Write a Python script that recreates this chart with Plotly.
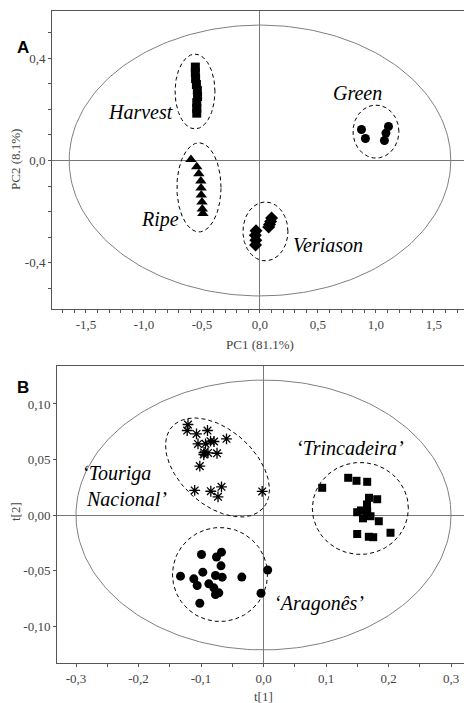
import numpy as np
import plotly.graph_objects as go

# ---------------- Panel A data (PC1 / PC2) ----------------
harvest_x = [-0.557, -0.557, -0.555, -0.548, -0.540, -0.538, -0.545, -0.545, -0.545]
harvest_y = [0.365, 0.343, 0.320, 0.297, 0.274, 0.250, 0.226, 0.203, 0.185]
ripe_x = [-0.595, -0.545, -0.527, -0.510, -0.508, -0.506, -0.500, -0.497, -0.492]
ripe_y = [0.004, -0.024, -0.052, -0.080, -0.107, -0.135, -0.162, -0.189, -0.207]
veriason_x = [0.100, 0.092, 0.082, 0.075, -0.034, -0.040, -0.036, -0.038]
veriason_y = [-0.225, -0.238, -0.250, -0.260, -0.274, -0.292, -0.311, -0.330]
green_x = [0.875, 0.909, 1.108, 1.086, 1.073]
green_y = [0.121, 0.086, 0.133, 0.107, 0.078]

# group ellipses A: (cx, cy, ax, by)
ell_harvest = (-0.560, 0.2695, 0.172, 0.146)
ell_ripe = (-0.526, -0.105, 0.190, 0.174)
ell_veriason = (0.047, -0.277, 0.194, 0.115)
ell_green = (1.000, 0.113, 0.198, 0.1035)
hotelling_A = (1.645, 0.529)

a_xticks = [-1.5, -1.0, -0.5, 0.0, 0.5, 1.0, 1.5]
a_xtext = ["-1,5", "-1,0", "-0,5", "0,0", "0,5", "1,0", "1,5"]
a_yticks = [-0.4, 0.0, 0.4]
a_ytext = ["-0,4", "0,0", "0,4"]

# ---------------- Panel B data (t[1] / t[2]) ----------------
touriga_x = [-0.1208, -0.1221, -0.1072, -0.0896, -0.0592, -0.1048, -0.0928, -0.0792,
             -0.0848, -0.0952, -0.0888, -0.0744, -0.0955, -0.1019, -0.1101, -0.0843,
             -0.0672, -0.0728, -0.0021]
touriga_y = [0.0815, 0.0761, 0.0730, 0.0761, 0.0686, 0.0640, 0.0641, 0.0662,
             0.0665, 0.0563, 0.0559, 0.0556, 0.0545, 0.0440, 0.0221, 0.0214,
             0.0254, 0.0164, 0.0212]
trinc_x = [0.0939, 0.1355, 0.1488, 0.1659, 0.1688, 0.1819, 0.1656, 0.1560, 0.1499,
           0.1659, 0.1592, 0.1712, 0.1845, 0.1499, 0.1685, 0.1755, 0.2032]
trinc_y = [0.0245, 0.0335, 0.0308, 0.0299, 0.0155, 0.0142, 0.0095, 0.0041, 0.0025,
           0.0034, -0.0030, -0.0011, -0.0056, -0.0171, -0.0196, -0.0200, -0.0160]
arag_x = [-0.0992, -0.0672, -0.0752, -0.0680, -0.1328, -0.0971, -0.0768, -0.0661,
          -0.0347, -0.1115, -0.1061, -0.0875, -0.0795, -0.0768, -0.0715, -0.1019,
          0.0067, -0.0040]
arag_y = [-0.0356, -0.0335, -0.0378, -0.0458, -0.0551, -0.0515, -0.0545, -0.0560,
          -0.0559, -0.0575, -0.0635, -0.0620, -0.0656, -0.0716, -0.0701, -0.0795,
          -0.0495, -0.0705]

# group ellipses B: center + two conjugate half-axis vectors (data units)
ell_touriga = ((-0.0736, 0.0428), (0.0728, -0.0367), (-0.0402, -0.0253))
ell_arag = (-0.0696, -0.0536, 0.076, 0.0423)
ell_trinc = (0.155, 0.0059, 0.0768, 0.0414)
hotelling_B = (0.300, 0.1215)

b_xticks = [-0.3, -0.2, -0.1, 0.0, 0.1, 0.2, 0.3]
b_xtext = ["-0,3", "-0,2", "-0,1", "0,0", "0,1", "0,2", "0,3"]
b_yticks = [-0.10, -0.05, 0.0, 0.05, 0.10]
b_ytext = ["-0,10", "-0,05", "0,00", "0,05", "0,10"]

W, H = 464, 703
t = np.linspace(0, 2 * np.pi, 240)
SERIF = "Liberation Serif"


def ell_xy(cx, cy, ax, by):
    return cx + ax * np.cos(t), cy + by * np.sin(t)


fig = go.Figure()

dash = "4px,3px"
gray = "#808080"

# ---- Panel A ----
ex, ey = ell_xy(0, 0, *hotelling_A)
fig.add_trace(go.Scatter(x=ex, y=ey, mode="lines", line=dict(color=gray, width=1),
                         xaxis="x", yaxis="y", hoverinfo="skip"))
for e in (ell_harvest, ell_ripe, ell_veriason, ell_green):
    ex, ey = ell_xy(*e)
    fig.add_trace(go.Scatter(x=ex, y=ey, mode="lines", line=dict(color="black", width=1, dash=dash),
                             xaxis="x", yaxis="y", hoverinfo="skip"))
fig.add_trace(go.Scatter(x=harvest_x, y=harvest_y, mode="markers",
                         marker=dict(symbol="square", size=9, color="black"), xaxis="x", yaxis="y"))
fig.add_trace(go.Scatter(x=ripe_x, y=ripe_y, mode="markers",
                         marker=dict(symbol="triangle-up", size=10, color="black"), xaxis="x", yaxis="y"))
fig.add_trace(go.Scatter(x=veriason_x, y=veriason_y, mode="markers",
                         marker=dict(symbol="diamond", size=10, color="black"), xaxis="x", yaxis="y"))
fig.add_trace(go.Scatter(x=green_x, y=green_y, mode="markers",
                         marker=dict(symbol="circle", size=9, color="black"), xaxis="x", yaxis="y"))

# ---- Panel B ----
ex, ey = ell_xy(0, 0, *hotelling_B)
fig.add_trace(go.Scatter(x=ex, y=ey, mode="lines", line=dict(color=gray, width=1),
                         xaxis="x2", yaxis="y2", hoverinfo="skip"))
(c, u, v) = ell_touriga
tx = c[0] + u[0] * np.cos(t) + v[0] * np.sin(t)
ty = c[1] + u[1] * np.cos(t) + v[1] * np.sin(t)
fig.add_trace(go.Scatter(x=tx, y=ty, mode="lines", line=dict(color="black", width=1, dash=dash),
                         xaxis="x2", yaxis="y2", hoverinfo="skip"))
for e in (ell_arag, ell_trinc):
    ex, ey = ell_xy(*e)
    fig.add_trace(go.Scatter(x=ex, y=ey, mode="lines", line=dict(color="black", width=1, dash=dash),
                             xaxis="x2", yaxis="y2", hoverinfo="skip"))
fig.add_trace(go.Scatter(x=touriga_x, y=touriga_y, mode="markers",
                         marker=dict(symbol="asterisk-open", size=9, color="black",
                                     line=dict(color="black", width=1.3)), xaxis="x2", yaxis="y2"))
fig.add_trace(go.Scatter(x=trinc_x, y=trinc_y, mode="markers",
                         marker=dict(symbol="square", size=8, color="black"), xaxis="x2", yaxis="y2"))
fig.add_trace(go.Scatter(x=arag_x, y=arag_y, mode="markers",
                         marker=dict(symbol="circle", size=9, color="black"), xaxis="x2", yaxis="y2"))

axis_common = dict(showgrid=False, showline=True, linecolor="#555", linewidth=1,
                   ticks="outside", ticklen=3, tickcolor="#555",
                   tickfont=dict(family=SERIF, size=13, color="#444"),
                   zeroline=True, zerolinecolor="#777", zerolinewidth=1)

fig.update_layout(
    width=W, height=H, margin=dict(l=0, r=0, t=0, b=0),
    paper_bgcolor="white", plot_bgcolor="white", showlegend=False,
    font=dict(family=SERIF),
    xaxis=dict(domain=[52 / W, 1], range=[-1.793, 1.759], anchor="y", mirror=True,
               tickvals=a_xticks, ticktext=a_xtext,
               minor=dict(dtick=0.1, ticks="outside", ticklen=3, tickcolor="#555"), **axis_common),
    yaxis=dict(domain=[1 - 309 / H, 1 - 11 / H], range=[-0.580, 0.584], anchor="x",
               tickvals=a_yticks, ticktext=a_ytext,
               minor=dict(dtick=0.1, ticks="outside", ticklen=3, tickcolor="#555"), **axis_common),
    xaxis2=dict(domain=[57 / W, 1], range=[-0.3304, 0.3208], anchor="y2", mirror=True,
                tickvals=b_xticks, ticktext=b_xtext,
                minor=dict(dtick=0.05, ticks="outside", ticklen=3, tickcolor="#555"), **axis_common),
    yaxis2=dict(domain=[1 - 663 / H, 1 - 366 / H], range=[-0.1333, 0.1342], anchor="x2",
                tickvals=b_yticks, ticktext=b_ytext, **axis_common),
)

ital = dict(family=SERIF, size=20, color="black")
ann = []
C = dict(xanchor="center", yanchor="middle", showarrow=False)
# group labels A
for txt, x, y in [("<i>Harvest</i>", -1.034, 0.191), ("<i>Green</i>", 0.845, 0.262),
                  ("<i>Ripe</i>", -0.862, -0.232), ("<i>Veriason</i>", 0.586, -0.330)]:
    ann.append(dict(text=txt, x=x, y=y, xref="x", yref="y", font=ital, **C))
# group labels B
ann.append(dict(text="<i>‘Trincadeira’</i>", x=0.139, y=0.060, xref="x2", yref="y2",
                font=ital, **C))
ann.append(dict(text="<i>‘Touriga<br> Nacional’</i>", x=-0.222, y=0.0257, xref="x2", yref="y2",
                font=ital, align="left", **C))
ann.append(dict(text="<i>‘Aragonês’</i>", x=0.088, y=-0.0797, xref="x2", yref="y2",
                font=ital, **C))
# panel letters
for txt, py in [("<b>A</b>", 47), ("<b>B</b>", 387)]:
    ann.append(dict(text=txt, x=23 / W, y=1 - py / H, xref="paper", yref="paper",
                    font=dict(family="Liberation Sans", size=17, color="black"), **C))
# axis titles
tf = dict(family=SERIF, size=13, color="#444")
ann.append(dict(text="PC1 (81.1%)", x=260 / W, y=1 - 344 / H, xref="paper", yref="paper",
                font=tf, **C))
ann.append(dict(text="PC2 (8.1%)", x=15 / W, y=1 - 160 / H, xref="paper", yref="paper",
                font=tf, textangle=-90, **C))
ann.append(dict(text="t[1]", x=263 / W, y=1 - 696 / H, xref="paper", yref="paper",
                font=tf, **C))
ann.append(dict(text="t[2]", x=15 / W, y=1 - 512 / H, xref="paper", yref="paper",
                font=tf, textangle=-90, **C))
fig.update_layout(annotations=ann)

fig.write_html("out.html")
